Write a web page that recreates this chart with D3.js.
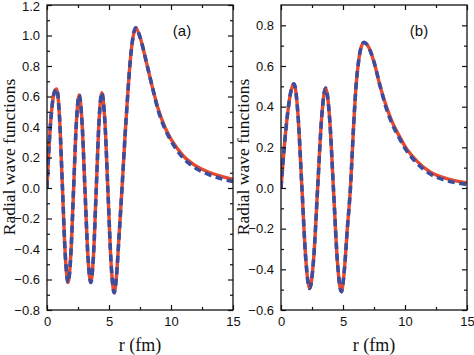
<!DOCTYPE html>
<html><head><meta charset="utf-8">
<script src="https://cdn.jsdelivr.net/npm/d3@7"></script>
<style>body{margin:0;background:#fff}svg{display:block}</style>
</head><body>
<script>
// ---- data ----
const rA = [0,0.2,0.4,0.6,0.78,1.01,1.24,1.47,1.70,1.92,2.145,2.37,2.59,2.825,3.06,3.295,3.53,3.75,3.975,4.2,4.42,4.67,4.92,5.17,5.42,5.6,5.8,6.05,6.3,6.5,6.7,6.9,7.15,7.5,8.0,8.5,9.0,9.5,10,10.5,11,12,13,14,15];
const redA = [0,0.32,0.53,0.63,0.65,0.464,0.015,-0.434,-0.62,-0.44,-0.005,0.43,0.61,0.43,-0.005,-0.44,-0.62,-0.44,0.0,0.443,0.625,0.433,-0.031,-0.495,-0.687,-0.58,-0.33,0.0,0.35,0.6,0.82,0.97,1.05,0.99,0.83,0.66,0.51,0.40,0.32,0.26,0.21,0.145,0.105,0.078,0.057];
const blueA = [0,0.32,0.53,0.63,0.65,0.464,0.015,-0.434,-0.62,-0.44,-0.005,0.43,0.61,0.43,-0.005,-0.44,-0.62,-0.44,0.0,0.443,0.625,0.433,-0.031,-0.495,-0.687,-0.58,-0.33,0.0,0.35,0.6,0.82,0.97,1.05,0.99,0.83,0.66,0.50,0.39,0.31,0.245,0.195,0.13,0.09,0.062,0.042];

const rB = [0,0.26,0.525,0.79,1.05,1.365,1.68,1.995,2.31,2.63,2.955,3.28,3.6,3.92,4.235,4.55,4.87,5.1,5.35,5.6,5.85,6.05,6.25,6.45,6.69,7.0,7.5,8.0,8.5,9.0,9.5,10,11,12,13,14,15];
const redB = [0,0.2,0.362,0.473,0.512,0.365,0.009,-0.347,-0.494,-0.35,0.0,0.347,0.491,0.344,-0.01,-0.363,-0.51,-0.41,-0.2,0.0,0.3,0.5,0.62,0.69,0.716,0.70,0.62,0.50,0.40,0.32,0.26,0.205,0.13,0.08,0.053,0.036,0.025];
const blueB = [0,0.2,0.362,0.473,0.512,0.365,0.009,-0.347,-0.494,-0.35,0.0,0.347,0.491,0.344,-0.01,-0.363,-0.51,-0.41,-0.2,0.0,0.3,0.5,0.62,0.69,0.716,0.70,0.62,0.50,0.39,0.31,0.25,0.195,0.12,0.07,0.043,0.027,0.018];

const xMajor = [0,5,10,15];
const xMinor = [2.5,7.5,12.5];
const yMajorA = [-0.8,-0.6,-0.4,-0.2,0.0,0.2,0.4,0.6,0.8,1.0,1.2];
const yMinorA = [-0.7,-0.5,-0.3,-0.1,0.1,0.3,0.5,0.7,0.9,1.1];
const yMajorB = [-0.6,-0.4,-0.2,0.0,0.2,0.4,0.6,0.8];
const yMinorB = [-0.5,-0.3,-0.1,0.1,0.3,0.5,0.7];

const W = 474, H = 355;
const svg = d3.select("body").append("svg").attr("width", W).attr("height", H);
svg.append("rect").attr("width", W).attr("height", H).attr("fill", "#fff");

function panel(cfg) {
  const x = d3.scaleLinear().domain([0, 15]).range([cfg.left, cfg.right]);
  const y = d3.scaleLinear().domain(cfg.ydom).range([310, 5]);
  const g = svg.append("g");
  const fmt = d3.format(".1f");

  const cid = "clip" + cfg.name;
  svg.append("clipPath").attr("id", cid).append("rect")
    .attr("x", cfg.left).attr("y", 5).attr("width", cfg.right - cfg.left).attr("height", 305);

  const mk = (r, v) => r.map((d, i) => [d, v[i]]);
  const line = d3.line().x(d => x(d[0])).y(d => y(d[1])).curve(d3.curveMonotoneX);
  const cg = g.append("g").attr("clip-path", `url(#${cid})`);
  cg.append("path").datum(mk(cfg.r, cfg.red)).attr("d", line)
    .attr("fill", "none").attr("stroke", "#e8482c").attr("stroke-width", 3.4).attr("stroke-linejoin", "round");
  cg.append("path").datum(mk(cfg.r, cfg.blue)).attr("d", line)
    .attr("fill", "none").attr("stroke", "#3b4d9e").attr("stroke-width", 3.6)
    .attr("stroke-dasharray", "7,4.5").attr("stroke-linejoin", "round");

  const styleAxis = sel => {
    sel.select(".domain").remove();
    sel.selectAll(".tick line").attr("stroke", "#111").attr("stroke-width", 1.2);
    sel.selectAll(".tick text").attr("font-family", "Liberation Sans, Arial, sans-serif")
      .attr("font-size", 13).attr("fill", "#111");
  };
  g.append("g").attr("transform", `translate(0,310)`)
    .call(d3.axisBottom(x).tickValues(xMajor).tickSizeInner(-5).tickSizeOuter(0).tickPadding(7).tickFormat(d3.format("d")))
    .call(styleAxis);
  g.append("g").attr("transform", `translate(0,310)`)
    .call(d3.axisBottom(x).tickValues(xMinor).tickSizeInner(-3).tickSizeOuter(0).tickFormat(""))
    .call(styleAxis);
  g.append("g").attr("transform", `translate(0,5)`)
    .call(d3.axisTop(x).tickValues(xMajor).tickSizeInner(-5).tickSizeOuter(0).tickFormat(""))
    .call(styleAxis);
  g.append("g").attr("transform", `translate(0,5)`)
    .call(d3.axisTop(x).tickValues(xMinor).tickSizeInner(-3).tickSizeOuter(0).tickFormat(""))
    .call(styleAxis);
  const la = g.append("g").attr("transform", `translate(${cfg.left},0)`)
    .call(d3.axisLeft(y).tickValues(cfg.yMajor).tickSizeInner(-5).tickSizeOuter(0).tickPadding(7).tickFormat(fmt))
    .call(styleAxis);
  // keep the topmost label inside the picture
  la.selectAll(".tick text").filter(d => y(d) < 8).attr("dy", "0.45em");
  g.append("g").attr("transform", `translate(${cfg.left},0)`)
    .call(d3.axisLeft(y).tickValues(cfg.yMinor).tickSizeInner(-3).tickSizeOuter(0).tickFormat(""))
    .call(styleAxis);
  g.append("g").attr("transform", `translate(${cfg.right},0)`)
    .call(d3.axisRight(y).tickValues(cfg.yMajor).tickSizeInner(-5).tickSizeOuter(0).tickFormat(""))
    .call(styleAxis);
  g.append("g").attr("transform", `translate(${cfg.right},0)`)
    .call(d3.axisRight(y).tickValues(cfg.yMinor).tickSizeInner(-3).tickSizeOuter(0).tickFormat(""))
    .call(styleAxis);

  g.append("rect").attr("x", cfg.left).attr("y", 5).attr("width", cfg.right - cfg.left).attr("height", 305)
    .attr("fill", "none").attr("stroke", "#111").attr("stroke-width", 1.3);

  g.append("text").attr("x", (cfg.left + cfg.right) / 2).attr("y", 351)
    .attr("text-anchor", "middle").attr("font-family", "Liberation Serif, Times New Roman, serif")
    .attr("font-size", 18).attr("fill", "#111").text("r (fm)");
  g.append("text").attr("transform", `translate(${cfg.ylabX},157) rotate(-90)`)
    .attr("text-anchor", "middle").attr("font-family", "Liberation Serif, Times New Roman, serif")
    .attr("font-size", 17.5).attr("fill", "#111").text("Radial wave functions");
  g.append("text").attr("x", cfg.tagX).attr("y", 36)
    .attr("text-anchor", "middle").attr("font-family", "Liberation Sans, Arial, sans-serif")
    .attr("font-size", 15).attr("fill", "#111").text(cfg.tag);
}

panel({name: "A", left: 47, right: 233, ydom: [-0.8, 1.2], r: rA, red: redA, blue: blueA,
       yMajor: yMajorA, yMinor: yMinorA, ylabX: 15, tagX: 182, tag: "(a)"});
panel({name: "B", left: 281, right: 467, ydom: [-0.6, 0.9], r: rB, red: redB, blue: blueB,
       yMajor: yMajorB, yMinor: yMinorB, ylabX: 249, tagX: 419, tag: "(b)"});
</script>
</body></html>
